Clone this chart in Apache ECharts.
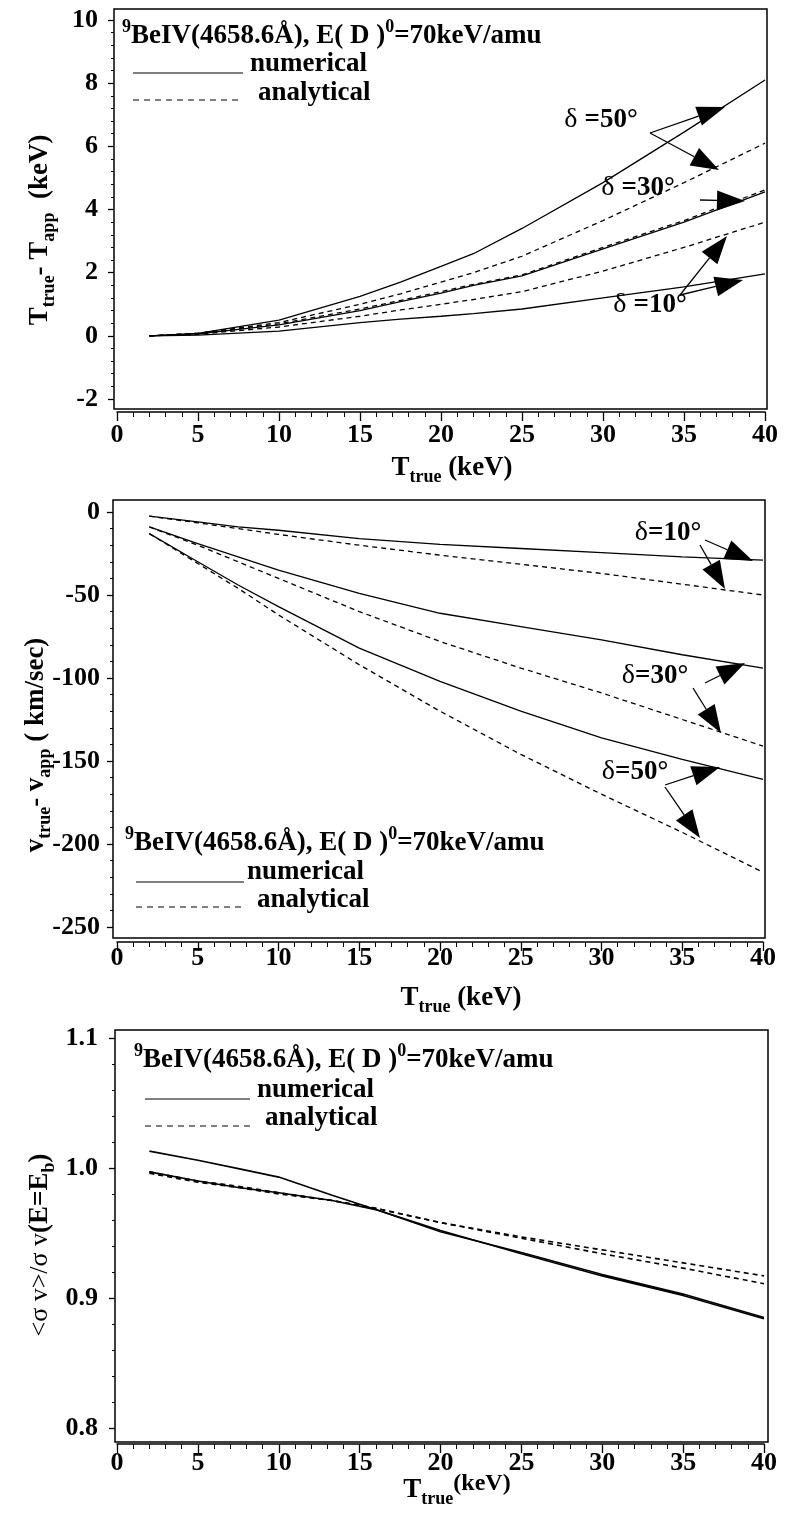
<!DOCTYPE html>
<html>
<head>
<meta charset="utf-8">
<script src="https://cdn.jsdelivr.net/npm/echarts@6/dist/echarts.min.js"></script>
<style>html,body{margin:0;padding:0;background:#fff}#main{width:789px;height:1517px}</style>
</head>
<body>
<div id="main"></div>
<script>
// panel 1: T_true - T_app (keV)
var t1 = [2, 5, 10, 15, 17.5, 20, 22, 25, 30, 35, 40];
var dT_num50 = [0, 0.08, 0.5, 1.25, 1.7, 2.2, 2.6, 3.4, 4.85, 6.45, 8.1];
var dT_ana50 = [0, 0.08, 0.42, 1.0, 1.33, 1.7, 2.0, 2.52, 3.65, 4.85, 6.1];
var dT_num30 = [0, 0.06, 0.35, 0.8, 1.08, 1.35, 1.6, 1.9, 2.75, 3.6, 4.56];
var dT_ana30 = [0, 0.08, 0.38, 0.85, 1.12, 1.4, 1.63, 1.93, 2.8, 3.65, 4.62];
var dT_ana10 = [0, 0.05, 0.28, 0.62, 0.82, 1.0, 1.15, 1.4, 2.05, 2.8, 3.6];
var dT_num10 = [0, 0.02, 0.15, 0.42, 0.53, 0.62, 0.7, 0.85, 1.2, 1.55, 1.96];

// panel 2: v_true - v_app (km/sec)
var t2 = [2, 5, 7.5, 10, 15, 20, 25, 30, 35, 40];
var dv_num10 = [-2.5, -6, -9, -11, -16, -19.5, -22, -24.5, -27, -29];
var dv_ana10 = [-2.5, -6.5, -10, -13.5, -20, -26, -31.5, -37, -43.5, -50];
var dv_num30 = [-9, -19, -27, -35, -49, -61, -69, -77, -86, -94];
var dv_ana30 = [-9, -20, -30, -40, -60, -78, -94, -109, -125, -141];
var dv_num50 = [-13, -30, -44, -57, -82, -102, -120, -136, -149, -161];
var dv_ana50 = [-13, -31, -46, -62, -92, -120, -146, -170, -193, -217];

// panel 3: <sigma v>/sigma v(E=Eb)
var t3 = [2, 5, 7.5, 10, 13.3, 16, 20, 25, 30, 35, 40];
var sv_numA = [1.013, 1.006, 0.9995, 0.993, 0.979, 0.968, 0.951, 0.935, 0.918, 0.903, 0.885];
var sv_numB = [0.997, 0.990, 0.985, 0.981, 0.975, 0.968, 0.952, 0.934, 0.917, 0.902, 0.884];
var sv_anaA = [0.997, 0.990, 0.986, 0.981, 0.975, 0.969, 0.958, 0.947, 0.937, 0.927, 0.917];
var sv_anaB = [0.996, 0.989, 0.985, 0.980, 0.975, 0.969, 0.958, 0.946, 0.934, 0.923, 0.911];

var serif = '"Liberation Serif", "DejaVu Serif", serif';
var tickFont = { fontFamily: serif, fontWeight: 'bold', fontSize: 26, color: '#000' };

function pairs(xs, ys) {
    return xs.map(function(x, i) { return [x, ys[i]]; });
}
function series(xs, ys, dashed, idx) {
    return {
        type: 'line',
        xAxisIndex: idx,
        yAxisIndex: idx,
        showSymbol: false,
        silent: true,
        lineStyle: { color: '#000', width: idx === 2 ? 1.6 : 1.3, type: dashed ? [5, 4] : 'solid' },
        data: pairs(xs, ys)
    };
}
function xAxis(idx, offset, margin) {
    return {
        type: 'value', gridIndex: idx, min: 0, max: 40, interval: 5, offset: offset,
        axisLine: { onZero: false, lineStyle: { color: '#000', width: 1.5 } },
        axisTick: { length: 9, lineStyle: { color: '#000', width: 1.3 } },
        minorTick: { show: true, splitNumber: 5, length: 5, lineStyle: { color: '#000', width: 1 } },
        splitLine: { show: false },
        axisLabel: Object.assign({ margin: margin }, tickFont)
    };
}
function yAxis(idx, min, max, interval, offset, margin, fmt) {
    return {
        type: 'value', gridIndex: idx, min: min, max: max, interval: interval, offset: offset,
        axisLine: { show: false, onZero: false },
        axisTick: { length: 6, lineStyle: { color: '#000', width: 1.3 } },
        minorTick: { show: true, splitNumber: 5, length: 3, lineStyle: { color: '#000', width: 1 } },
        splitLine: { show: false },
        axisLabel: Object.assign({ margin: margin, formatter: fmt }, tickFont)
    };
}

var rich = {
    b: { fontFamily: serif, fontWeight: 'bold', fontSize: 27, lineHeight: 36, color: '#000' },
    r: { fontFamily: serif, fontSize: 26, lineHeight: 36, color: '#000' },
    d: { fontFamily: serif, fontSize: 28, lineHeight: 36, color: '#000' },
    sup: { fontFamily: serif, fontWeight: 'bold', fontSize: 18, lineHeight: 18, verticalAlign: 'top', color: '#000' },
    sub: { fontFamily: serif, fontWeight: 'bold', fontSize: 18, lineHeight: 18, verticalAlign: 'bottom', color: '#000' },
    up: { fontFamily: serif, fontWeight: 'bold', fontSize: 24, lineHeight: 24, verticalAlign: 'top', color: '#000' }
};
function txt(x, y, text, align, rot) {
    return {
        type: 'text', x: x, y: y, rotation: rot || 0, z: 50,
        style: { text: text, x: 0, y: 0, align: align || 'left', verticalAlign: 'middle', rich: rich }
    };
}
function arrow(x1, y1, x2, y2) {
    var dx = x2 - x1, dy = y2 - y1, L = Math.sqrt(dx * dx + dy * dy);
    var ux = dx / L, uy = dy / L, hl = 28, hw = 10;
    var bx = x2 - ux * hl, by = y2 - uy * hl;
    return [
        { type: 'line', z: 50, shape: { x1: x1, y1: y1, x2: bx, y2: by }, style: { stroke: '#000', lineWidth: 1.3 } },
        { type: 'polygon', z: 50, shape: { points: [[x2, y2], [bx - uy * hw, by + ux * hw], [bx + uy * hw, by - ux * hw]] }, style: { fill: '#000' } }
    ];
}
function frame(x, y, w, h) {
    return { type: 'rect', z: 40, shape: { x: x, y: y, width: w, height: h }, style: { fill: 'none', stroke: '#000', lineWidth: 1.5 } };
}
function legend(x0, x1, yTitle, yNum, yAna, xNum, xAna, yNumText, yAnaText) {
    return [
        txt(x0 - 11, yTitle, '{sup|9}{b|BeIV(4658.6Å), E( D )}{sup|0}{b|=70keV/amu}'),
        { type: 'line', z: 50, shape: { x1: x0, y1: yNum, x2: x1, y2: yNum }, style: { stroke: '#000', lineWidth: 1.2 } },
        { type: 'line', z: 50, shape: { x1: x0, y1: yAna, x2: x1, y2: yAna }, style: { stroke: '#000', lineWidth: 1.2, lineDash: [6, 5] } },
        txt(xNum, yNumText, '{b|numerical}'),
        txt(xAna, yAnaText, '{b|analytical}')
    ];
}

var graphics = [
    frame(114, 9, 653, 400),
    frame(113, 500, 652, 438),
    frame(115, 1030, 653, 412),
    txt(452, 468, '{b|T}{sub|true}{b| (keV)}', 'center'),
    txt(461, 998, '{b|T}{sub|true}{b| (keV)}', 'center'),
    txt(457, 1490, '{b|T}{sub|true}{up|(keV)}', 'center'),
    txt(40, 230, '{b|T}{sub|true}{b|- T}{sub|app}{b|  (keV)}', 'center', Math.PI / 2),
    txt(36, 745, '{b|v}{sub|true}{b|- v}{sub|app}{b| ( km/sec)}', 'center', Math.PI / 2),
    txt(40, 1245, '{r|<σ v>/σ v}{b|(E=E}{sub|b}{b|)}', 'center', Math.PI / 2),
    txt(601, 120, '{d|δ }{b|=50°}', 'center'),
    txt(638, 188, '{d|δ }{b|=30°}', 'center'),
    txt(650, 305, '{d|δ }{b|=10°}', 'center'),
    txt(668, 533, '{d|δ}{b|=10°}', 'center'),
    txt(655, 676, '{d|δ}{b|=30°}', 'center'),
    txt(635, 772, '{d|δ}{b|=50°}', 'center')
];
graphics = graphics
    .concat(legend(133, 243, 36, 73, 100, 250, 258, 64, 93))
    .concat(legend(136, 244, 843, 882, 907, 247, 257, 872, 900))
    .concat(legend(145, 250, 1060, 1099, 1126, 257, 265, 1090, 1118))
    .concat(arrow(650, 133, 725, 107), arrow(650, 133, 719, 170))
    .concat(arrow(700, 200, 745, 201))
    .concat(arrow(680, 295, 727, 236), arrow(680, 295, 743, 280))
    .concat(arrow(705, 540, 753, 561), arrow(700, 545, 725, 589))
    .concat(arrow(705, 683, 745, 663), arrow(693, 688, 721, 733))
    .concat(arrow(665, 785, 720, 767), arrow(665, 787, 700, 838));

var option = {
    animation: false,
    backgroundColor: '#fff',
    grid: [
        { left: 117, right: 24, top: 20, height: 379 },
        { left: 117, right: 26, top: 512, height: 415 },
        { left: 117, right: 25, top: 1038, height: 390 }
    ],
    xAxis: [xAxis(0, 13, 10), xAxis(1, 15, 3), xAxis(2, 16, 6)],
    yAxis: [
        yAxis(0, -2, 10, 2, 3, 16),
        yAxis(1, -250, 0, 50, 4, 13),
        yAxis(2, 0.8, 1.1, 0.1, 2, 17, function(v) { return v.toFixed(1); })
    ],
    series: [
        series(t1, dT_num50, false, 0), series(t1, dT_ana50, true, 0),
        series(t1, dT_num30, false, 0), series(t1, dT_ana30, true, 0),
        series(t1, dT_num10, false, 0), series(t1, dT_ana10, true, 0),
        series(t2, dv_num10, false, 1), series(t2, dv_ana10, true, 1),
        series(t2, dv_num30, false, 1), series(t2, dv_ana30, true, 1),
        series(t2, dv_num50, false, 1), series(t2, dv_ana50, true, 1),
        series(t3, sv_numA, false, 2), series(t3, sv_numB, false, 2),
        series(t3, sv_anaA, true, 2), series(t3, sv_anaB, true, 2)
    ],
    graphic: graphics
};
var chart = echarts.init(document.getElementById('main'));
chart.setOption(option);
window.onresize = function() { chart.resize(); };
</script>
</body>
</html>
